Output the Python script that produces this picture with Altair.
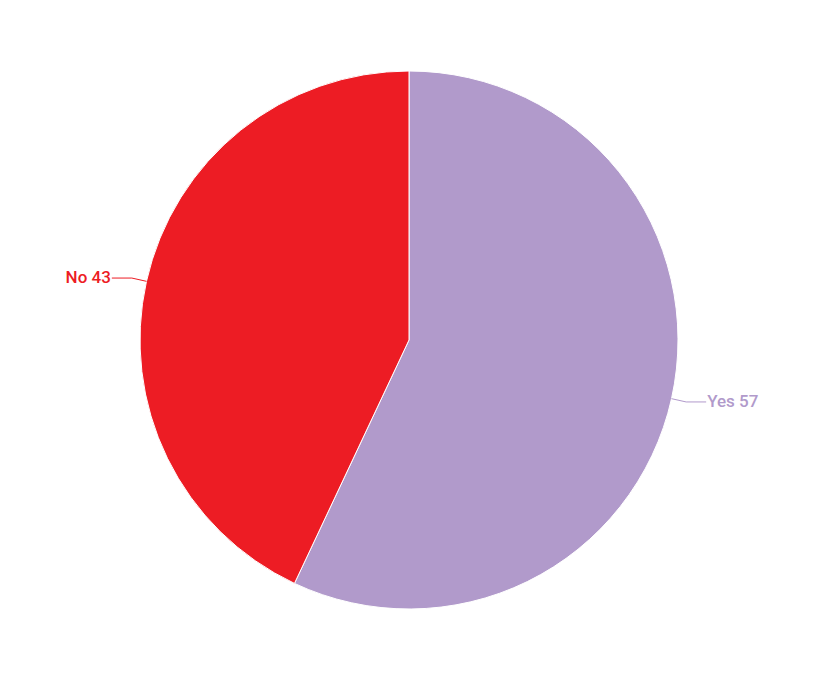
import math
import altair as alt
import pandas as pd

categories = ["Yes", "No"]
values = [57, 43]
colors = ["#B19ACB", "#ED1C24"]

R = 269       # pie radius (px)
ELBOW = 284   # leader elbow radius
ARM = 20      # horizontal leader arm
W, H = 800, 664

total = sum(values)
arc_df = pd.DataFrame({"cat": categories, "val": values, "idx": range(len(values)),
                       "label": [f"{c} {v}" for c, v in zip(categories, values)]})

# leader lines and label anchors derived from the values
rows, labels = [], []
cum = 0
for i, (c, v) in enumerate(zip(categories, values)):
    mid = (cum + v / 2) / total * 2 * math.pi
    cum += v
    sx, cy = math.sin(mid), math.cos(mid)
    p0 = (R * sx, R * cy)
    p1 = (ELBOW * sx, ELBOW * cy)
    side = 1 if sx >= 0 else -1
    p2 = (p1[0] + side * ARM, p1[1])
    for k, p in enumerate([p0, p1, p2]):
        rows.append({"cat": c, "k": k, "x": p[0], "y": p[1]})
    labels.append({"cat": c, "x": p2[0] + side * 1, "y": p2[1],
                   "label": f"{c} {v}", "side": "left" if side > 0 else "right"})
line_df = pd.DataFrame(rows)
lab_df = pd.DataFrame(labels)

color_scale = alt.Scale(domain=categories, range=colors)
xs = alt.Scale(domain=[-W / 2, W / 2], nice=False, zero=False)
ys = alt.Scale(domain=[-H / 2, H / 2], nice=False, zero=False)

pie = alt.Chart(arc_df).mark_arc(outerRadius=R, stroke="white", strokeWidth=1).encode(
    theta=alt.Theta("val:Q", stack=True),
    color=alt.Color("cat:N", scale=color_scale, legend=None),
    order=alt.Order("idx:Q"),
)

lines = alt.Chart(line_df).mark_line(strokeWidth=1).encode(
    x=alt.X("x:Q", scale=xs, axis=None),
    y=alt.Y("y:Q", scale=ys, axis=None),
    detail="cat:N",
    order="k:Q",
    color=alt.Color("cat:N", scale=color_scale, legend=None),
)

base_text = alt.Chart(lab_df).encode(
    x=alt.X("x:Q", scale=xs, axis=None),
    y=alt.Y("y:Q", scale=ys, axis=None),
    text="label:N",
    color=alt.Color("cat:N", scale=color_scale, legend=None),
)
txt_l = base_text.transform_filter(alt.datum.side == "left").mark_text(
    align="left", baseline="middle", font="Roboto", fontSize=17, fontWeight=500)
txt_r = base_text.transform_filter(alt.datum.side == "right").mark_text(
    align="right", baseline="middle", font="Roboto", fontSize=17, fontWeight=500)

chart = alt.layer(pie, lines, txt_l, txt_r).properties(
    width=W, height=H, autosize="none",
    padding={"left": 1, "top": 0, "right": 0, "bottom": 0},
).configure_view(stroke=None)

chart.save("out.html", embed_options={"renderer": "svg", "actions": False})
